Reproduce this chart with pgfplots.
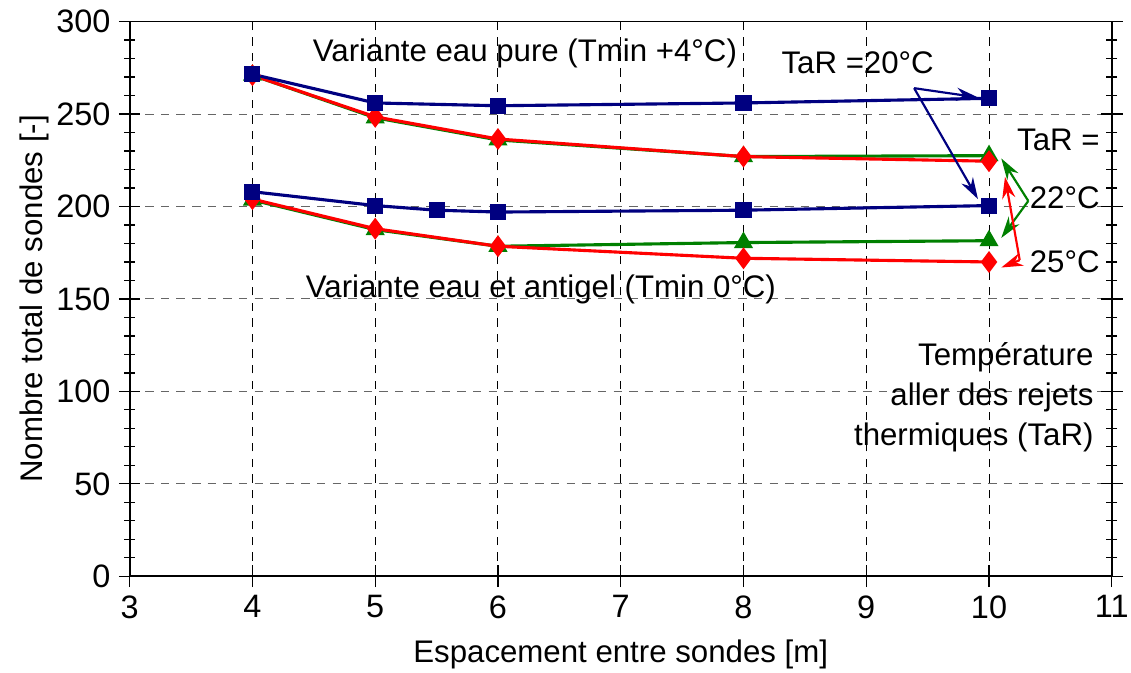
\documentclass[border=0pt]{standalone}
\usepackage{fontspec}
\setmainfont{Liberation Sans}
\usepackage{pgfplots}
\pgfplotsset{compat=1.18}
\usetikzlibrary{arrows.meta}

\definecolor{navy}{RGB}{0,0,128}
\definecolor{dgreen}{RGB}{0,128,0}

\begin{document}
\begin{tikzpicture}[font=\fontsize{13}{15}\selectfont]
\begin{axis}[
  name=ax,
  scale only axis,
  width=409pt, height=231pt,
  xmin=3, xmax=11, ymin=0, ymax=300,
  xtick={3,...,11}, ytick={0,50,...,300},
  minor y tick num=4,
  xtick pos=bottom, ytick pos=both,
  tick align=center,
  major tick length=9pt, minor tick length=4.5pt,
  every tick/.style={black, line width=0.5pt},
  axis line style={line width=0.7pt},
  /pgf/number format/assume math mode=true,
  ticklabel style={font=\fontsize{13.5}{15}\selectfont},
  xlabel={Espacement entre sondes [m]},
  ylabel={Nombre total de sondes [-]},
  xlabel style={yshift=-2pt},
  ylabel style={yshift=-4pt},
  grid=major,
  x grid style={black, dash pattern=on 3.5pt off 3pt, line width=0.4pt},
  y grid style={black!60, dash pattern=on 3.5pt off 3pt, line width=0.4pt},
  clip=false,
  every axis plot/.append style={line width=1.3pt},
]
% Variante eau pure (Tmin +4°C)
\addplot[dgreen, mark=triangle*, mark size=3.3pt] coordinates {(4,271) (5,248) (6,236) (8,227) (10,227.5)};
\addplot[red, mark=diamond*, mark size=3.5pt] coordinates {(4,271) (5,248.5) (6,236.5) (8,227) (10,224.5)};
\addplot[navy, mark=square*, mark size=2.7pt] coordinates {(4,271.5) (5,256) (6,254.5) (8,256) (10,258.5)};
% Variante eau et antigel (Tmin 0°C)
\addplot[dgreen, mark=triangle*, mark size=3.3pt] coordinates {(4,203.5) (5,187.5) (6,178.5) (8,180.5) (10,181.5)};
\addplot[red, mark=diamond*, mark size=3.5pt] coordinates {(4,204) (5,188) (6,178.5) (8,172) (10,170)};
\addplot[navy, mark=square*, mark size=2.7pt] coordinates {(4,208) (5,200.5) (5.5,198) (6,197) (8,198) (10,200.5)};

\node at (axis cs:6.22,283) {Variante eau pure (Tmin +4°C)};
\node at (axis cs:8.93,278) {TaR =20°C};
\node[anchor=east] at (axis cs:10.97,236) {TaR =};
\node[anchor=east] at (axis cs:10.97,205) {22°C};
\node[anchor=east] at (axis cs:10.97,170) {25°C};
\node at (axis cs:6.35,155) {Variante eau et antigel (Tmin 0°C)};
\node[anchor=east, align=right, font=\fontsize{13}{16.6}\selectfont] at (axis cs:10.92,97)
  {Température\\aller des rejets\\thermiques (TaR)};

\draw[navy, line width=0.9pt, -{Stealth[length=9pt,width=5.5pt]}] (axis cs:9.39,264) -- (axis cs:9.91,259);
\draw[navy, line width=0.9pt, -{Stealth[length=9pt,width=5.5pt]}] (axis cs:9.39,264) -- (axis cs:9.91,204);
\draw[dgreen, line width=0.9pt, -{Stealth[length=9pt,width=5.5pt]}] (axis cs:10.32,203) -- (axis cs:10.10,226);
\draw[dgreen, line width=0.9pt, -{Stealth[length=9pt,width=5.5pt]}] (axis cs:10.32,203) -- (axis cs:10.10,183);
\draw[red, line width=0.9pt, -{Stealth[length=9pt,width=5.5pt]}] (axis cs:10.25,171) -- (axis cs:10.13,216);
\draw[red, line width=0.9pt, -{Stealth[length=9pt,width=5.5pt]}] (axis cs:10.25,171) -- (axis cs:10.10,167);
\end{axis}
\pgfresetboundingbox
\path ([shift={(-54pt,-40pt)}]ax.south west) rectangle ([shift={(8pt,9pt)}]ax.north east);
\end{tikzpicture}
\end{document}
